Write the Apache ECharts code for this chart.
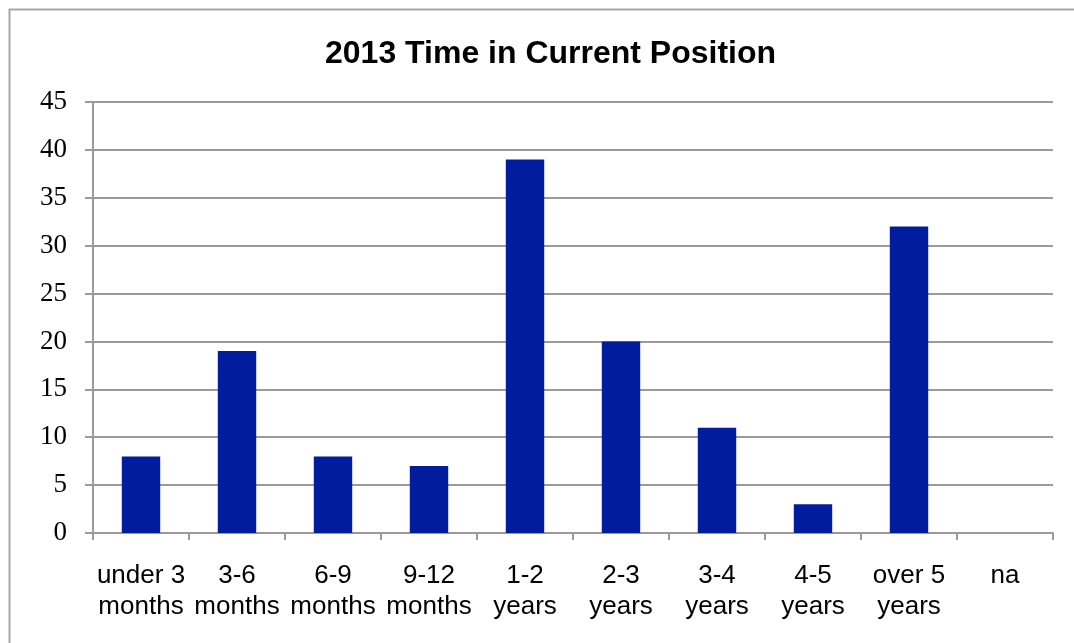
<!DOCTYPE html>
<html>
<head>
<meta charset="utf-8">
<title>2013 Time in Current Position</title>
<script src="https://cdn.jsdelivr.net/npm/echarts@6/dist/echarts.min.js"></script>
<style>
  html, body { margin: 0; padding: 0; background: #ffffff; }
  #chart { width: 1074px; height: 643px; }
</style>
</head>
<body>
<div id="chart"></div>
<script>
// Categories along the x axis (two-line labels)
const categories = [
  'under 3\nmonths', '3-6\nmonths', '6-9\nmonths', '9-12\nmonths',
  '1-2\nyears', '2-3\nyears', '3-4\nyears', '4-5\nyears',
  'over 5\nyears', 'na'
];
// Number of respondents per category
const counts = [8, 19, 8, 7, 39, 20, 11, 3, 32, 0];
// Value axis range
const yMin = 0;
const yMax = 45;
const yStep = 5;

const chart = echarts.init(document.getElementById('chart'), null, { renderer: 'canvas' });

const gridColor = '#9a9a9a';

chart.setOption({
  animation: false,
  backgroundColor: '#ffffff',
  title: {
    text: '2013 Time in Current Position',
    left: 320,
    top: 33,
    textStyle: {
      fontFamily: 'Liberation Sans, Arial, sans-serif',
      fontWeight: 'bold',
      fontSize: 32,
      color: '#000000'
    }
  },
  graphic: [
    {
      type: 'polyline',
      shape: { points: [[9.5, 643], [9.5, 9.5], [1074, 9.5]] },
      style: { stroke: '#a6a6a6', lineWidth: 2, fill: null },
      silent: true
    }
  ],
  grid: { left: 93, right: 21, top: 102, bottom: 110, containLabel: false },
  xAxis: {
    type: 'category',
    data: categories,
    boundaryGap: true,
    axisLine: { show: true, lineStyle: { color: gridColor, width: 2 } },
    axisTick: { show: true, length: 7, interval: 0, lineStyle: { color: gridColor, width: 2 } },
    axisLabel: {
      interval: 0,
      margin: 27,
      fontFamily: 'Liberation Sans, Arial, sans-serif',
      fontSize: 26,
      lineHeight: 31,
      color: '#000000'
    },
    splitLine: { show: false }
  },
  yAxis: {
    type: 'value',
    min: yMin,
    max: yMax,
    interval: yStep,
    axisLine: { show: true, lineStyle: { color: gridColor, width: 2 } },
    axisTick: { show: true, length: 8, lineStyle: { color: gridColor, width: 2 } },
    axisLabel: {
      margin: 26,
      fontFamily: 'Liberation Serif, Times New Roman, serif',
      fontSize: 27,
      color: '#000000'
    },
    splitLine: { show: true, lineStyle: { color: gridColor, width: 2 } }
  },
  series: [
    {
      type: 'bar',
      data: counts,
      barWidth: '40%',
      itemStyle: { color: '#021c9f' }
    }
  ]
});
</script>
</body>
</html>
